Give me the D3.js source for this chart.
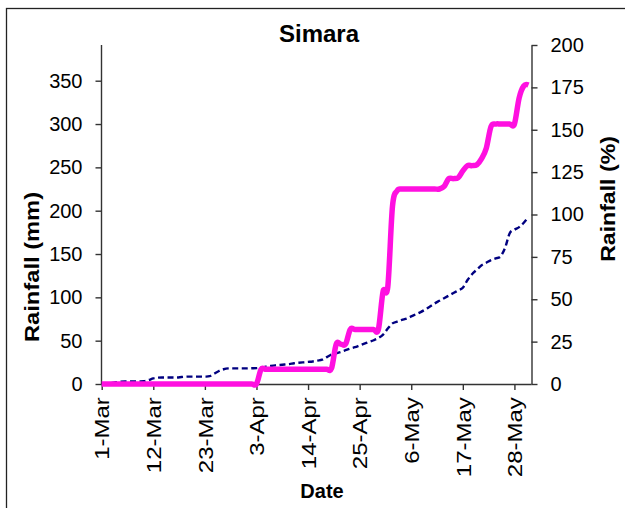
<!DOCTYPE html>
<html>
<head>
<meta charset="utf-8">
<script src="https://cdn.jsdelivr.net/npm/d3@7"></script>
<style>
  body { margin: 0; background: #fff; }
  text { font-family: Arial, "Liberation Sans", sans-serif; }
</style>
</head>
<body>
<script>
/* Simara cumulative rainfall, Mar-May */

var title = "Simara";

// one entry per day, 1-Mar .. 31-May
var startDay = new Date(2010, 2, 1);
var endDay = new Date(2010, 5, 1);
var dates = d3.timeDay.range(startDay, endDay);

// actual cumulative rainfall (mm)
var actual = [
  0,0,0,0,0,0,0,0,0,0, 0,0,0,0,0,0,0,0,0,0,
  0,0,0,0,0,0,0,0,0,0, 0,0,0,0,
  17,17,17,17,17,17,17,17,17,17,17,17,17,17,17,
  18,46,46,46,
  63,63,63,63,63,63,63,
  107,112,205,223,
  225,225,225,225,225,225,225,225,225,
  228,237,237,238,246,252,252,253,260,272,297,300,300,300,300,300,330,344,345
];

// normal cumulative rainfall (mm)
var normal = [
  0,0.5,1,2,2.7,3,3,3,3,3.2,
  4.5,6.5,7.3,7.5,7.5,7.5,7.5,8,8.5,8.5,
  8.5,8.5,8.5,9,12,15,17,18,18,18,
  18,18,18.2,18.3,19,20,20.8,21.5,22,22.5,
  23,23.9,24.5,25,25.5,26,27,28,31,34,
  35.5,37,39,41,42.5,44.5,46.5,48.5,50.5,53,
  57,64,70,72,74,75.5,78,80.5,83,86,
  89.5,93,96,99,102,105,108,111,120,127,
  132,137,140,143,145,147,157,174,178,181,
  186,193
];

var tickDates = ["1-Mar","12-Mar","23-Mar","3-Apr","14-Apr","25-Apr","6-May","17-May","28-May"];
var leftTicks = [0,50,100,150,200,250,300,350];
var rightTicks = [0,25,50,75,100,125,150,175,200];

var W = 625, H = 508;
var plotL = 101.5, plotR = 531.5, plotT = 45, plotB = 384;

var svg = d3.select("body").append("svg")
    .attr("width", W)
    .attr("height", H);

svg.append("rect")
    .attr("width", W).attr("height", H)
    .attr("fill", "#fff");

// outer frame (only top/left visible in the picture)
svg.append("rect")
    .attr("x", 6.5).attr("y", 8.5)
    .attr("width", 700).attr("height", 600)
    .attr("fill", "none")
    .attr("stroke", "#222")
    .attr("stroke-width", 1.3);

var parseTick = d3.timeParse("%d-%b-%Y");

var x = d3.scaleTime()
    .domain([startDay, dates[dates.length - 1]])
    .range([plotL + 0.2, plotL + 0.2 + 91 * 4.69]);

var yL = d3.scaleLinear().domain([0, 391.2]).range([plotB, plotT]);
var yR = d3.scaleLinear().domain([0, 200]).range([plotB, plotT]);

var fmt = d3.timeFormat("%-d-%b");

// axes
var xAxis = svg.append("g")
    .attr("transform", "translate(0," + plotB + ")")
    .call(d3.axisBottom(x)
        .tickValues(tickDates.map(function(t){ return parseTick(t + "-2010"); }))
        .tickFormat(fmt)
        .tickSize(6)
        .tickSizeOuter(0));
xAxis.select(".domain").attr("d", "M" + plotL + ",0.5H" + plotR);
// labels in the picture are drawn taller than wide
xAxis.selectAll("text")
    .attr("transform", "rotate(-90) scale(1.2,1)")
    .attr("text-anchor", "end")
    .attr("x", -11)
    .attr("y", 0)
    .attr("dy", "0.36em")
    .style("font-size", "20px");

var lAxis = svg.append("g")
    .attr("transform", "translate(" + plotL + ",0)")
    .call(d3.axisLeft(yL).tickValues(leftTicks).tickSize(6).tickSizeOuter(0).tickPadding(13));
lAxis.select(".domain").attr("d", "M0," + plotT + "V" + plotB);
lAxis.selectAll("text").style("font-size", "20px");

var rAxis = svg.append("g")
    .attr("transform", "translate(" + plotR + ",0)")
    .call(d3.axisRight(yR).tickValues(rightTicks).tickSize(6).tickSizeOuter(0).tickPadding(13));
rAxis.selectAll("text").style("font-size", "20px");

svg.selectAll(".domain, .tick line")
    .attr("stroke", "#333")
    .attr("stroke-width", 1.4);
svg.selectAll(".tick text").attr("fill", "#000");

// lines
var lineNormal = d3.line()
    .x(function(d, i){ return x(dates[i]); })
    .y(function(d){ return yL(d); })
    .curve(d3.curveCardinal.tension(0));

var lineActual = d3.line()
    .x(function(d, i){ return x(dates[i]); })
    .y(function(d){ return yL(d); })
    .curve(d3.curveCardinal.tension(0));

svg.append("path")
    .datum(normal)
    .attr("d", lineNormal)
    .attr("fill", "none")
    .attr("stroke", "#000080")
    .attr("stroke-width", 2.4)
    .attr("stroke-dasharray", "6,3.5");

svg.append("path")
    .datum(actual)
    .attr("d", lineActual)
    .attr("fill", "none")
    .attr("stroke", "#ff10e0")
    .attr("stroke-width", 5.5)
    .attr("stroke-linejoin", "round");

// titles
svg.append("text")
    .attr("x", 319).attr("y", 42)
    .attr("text-anchor", "middle")
    .style("font-size", "24px")
    .style("font-weight", "bold")
    .text(title);

svg.append("text")
    .attr("transform", "translate(39,267) rotate(-90) scale(1.13,1)")
    .attr("text-anchor", "middle")
    .style("font-size", "21px")
    .style("font-weight", "bold")
    .text("Rainfall (mm)");

svg.append("text")
    .attr("transform", "translate(614.5,199) rotate(-90) scale(1.1,1)")
    .attr("text-anchor", "middle")
    .style("font-size", "21px")
    .style("font-weight", "bold")
    .text("Rainfall (%)");

svg.append("text")
    .attr("x", 322).attr("y", 498)
    .attr("text-anchor", "middle")
    .style("font-size", "20px")
    .style("font-weight", "bold")
    .text("Date");
</script>
</body>
</html>
